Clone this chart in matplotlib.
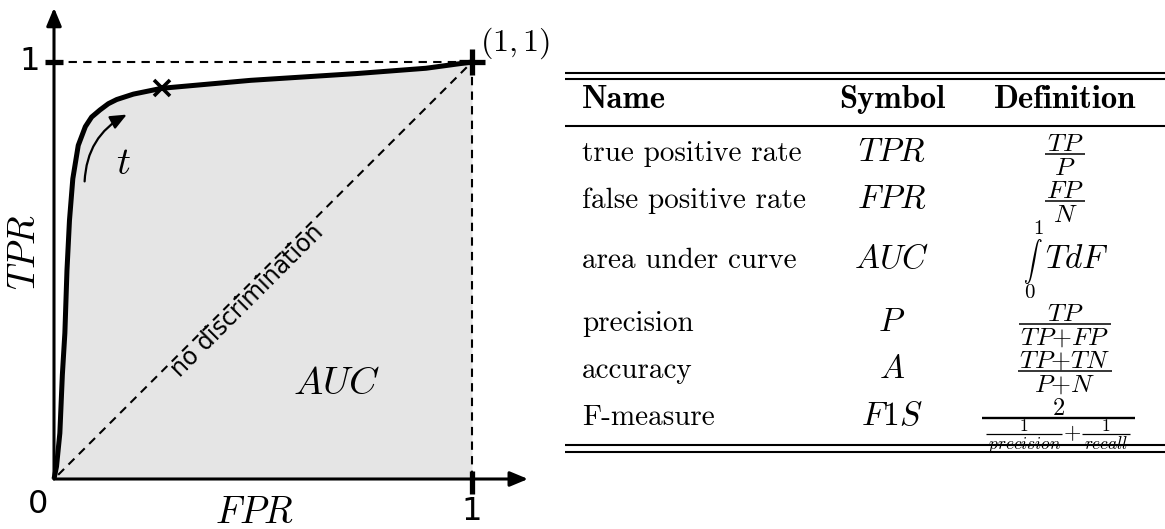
import matplotlib
matplotlib.use("Agg")
import matplotlib.pyplot as plt
from matplotlib.patches import FancyArrowPatch

plt.rcParams["mathtext.fontset"] = "cm"
plt.rcParams["font.family"] = "DejaVu Sans"

# ROC curve (false positive rate vs true positive rate)
fpr = [0.0, 0.006, 0.014, 0.020, 0.026, 0.031, 0.037, 0.045, 0.058, 0.075,
       0.090, 0.110, 0.130, 0.150, 0.190, 0.258, 0.470, 0.720, 0.890, 1.0]
tpr = [0.0, 0.030, 0.110, 0.250, 0.350, 0.500, 0.620, 0.720, 0.800, 0.845,
       0.868, 0.885, 0.900, 0.910, 0.923, 0.937, 0.956, 0.972, 0.985, 1.0]
threshold_point = (0.258, 0.937)

# metric table
headers = ["Name", "Symbol", "Definition"]
names = ["true positive rate", "false positive rate", "area under curve",
         "precision", "accuracy", "F-measure"]
symbols = [r"$TPR$", r"$FPR$", r"$AUC$", r"$P$", r"$A$", r"$F1S$"]
# definitions as (numerator, denominator); None marks the integral row
definitions = [
    (r"$TP$", r"$P$"),
    (r"$FP$", r"$N$"),
    None,
    (r"$TP$", r"$TP{+}FP$"),
    (r"$TP{+}TN$", r"$P{+}N$"),
    (r"$2$", [(r"$1$", r"$precision$"), (r"$1$", r"$recall$")]),
]
auc_integrand = r"$TdF$"
auc_limits = ["0", "1"]

W, H = 1165, 529
fig = plt.figure(figsize=(W / 100, H / 100), dpi=100)

# --- ROC sketch: unit square maps to x 54..472 px, y 479..62 px
ax = fig.add_axes([0, 0, 1, 1])
x0, y0, ux, uy = 54, 479, 418, 417
ax.set_xlim(-x0 / ux, (W - x0) / ux)
ax.set_ylim((y0 - H) / uy, y0 / uy)
ax.axis("off")

ax.fill_between(fpr, 0, tpr, color="#e5e5e5", lw=0, zorder=0)
dash = (0, (4, 3))
ax.plot([0, 1], [1, 1], color="k", lw=1.5, ls=dash, zorder=1)
ax.plot([1, 1], [0, 1], color="k", lw=1.5, ls=dash, zorder=1)
ax.plot([0.01, 1], [0.01, 1], color="k", lw=1.5, ls=dash, zorder=1)

head = "-|>,head_length=0.6,head_width=0.25"
ax.annotate("", xy=(1.134, 0), xytext=(0, 0),
            arrowprops=dict(arrowstyle=head, lw=2.2, color="k",
                            mutation_scale=18, shrinkA=0, shrinkB=0))
ax.annotate("", xy=(0, 1.13), xytext=(0, 0),
            arrowprops=dict(arrowstyle=head, lw=2.2, color="k",
                            mutation_scale=18, shrinkA=0, shrinkB=0))

# tick bars and the (1,1) cross
ax.plot([-0.022, 0.022], [1, 1], color="k", lw=3.8, solid_capstyle="butt", zorder=3)
ax.plot([1, 1], [-0.036, 0.02], color="k", lw=3.8, solid_capstyle="butt", zorder=3)
ax.plot([0.968, 1.03], [1, 1], color="k", lw=3.8, solid_capstyle="butt", zorder=3)
ax.plot([1, 1], [0.97, 1.03], color="k", lw=3.8, solid_capstyle="butt", zorder=3)

ax.plot(fpr, tpr, color="k", lw=3.6, solid_joinstyle="round",
        solid_capstyle="butt", zorder=4)
ax.plot(*threshold_point, marker="x", color="k", ms=11, mew=2.6, zorder=5)

arc = FancyArrowPatch((0.073, 0.707), (0.18, 0.877),
                      connectionstyle="arc3,rad=-0.3",
                      arrowstyle="-|>,head_length=0.7,head_width=0.3",
                      mutation_scale=14, lw=1.6, color="k", zorder=5)
ax.add_patch(arc)

ax.text(0.165, 0.758, r"$t$", fontsize=28, ha="center", va="center")
ax.text(0.675, 0.23, r"$AUC$", fontsize=28, ha="center", va="center")
ax.text(1.02, 1.045, r"$(1,1)$", fontsize=23, ha="left", va="center")
ax.text(0.48, -0.082, r"$FPR$", fontsize=27, ha="center", va="center")
ax.text(-0.069, 0.544, r"$TPR$", fontsize=27, ha="center", va="center",
        rotation=90)
ax.text(-0.037, -0.062, "0", fontsize=23, ha="center", va="center")
ax.text(-0.057, 1.0, "1", fontsize=23, ha="center", va="center")
ax.text(1.0, -0.079, "1", fontsize=23, ha="center", va="center")
ax.text(0.462, 0.427, "no discrimination", fontsize=17, ha="center",
        va="center", rotation=45, rotation_mode="anchor")

# --- table drawn in pixel coordinates (y grows downwards)
tab = fig.add_axes([0, 0, 1, 1], facecolor="none")
tab.set_xlim(0, W)
tab.set_ylim(H, 0)
tab.axis("off")
renderer = fig.canvas.get_renderer()


def text_width(t):
    return t.get_window_extent(renderer).width


def stacked(x, y, num, den, fs, lw=1.1, pad=1.5, ha="center"):
    """Numerator over denominator with a rule at height y; returns width."""
    cap = 0.683 * fs * 100 / 72
    tn = tab.text(x, y - 3, num, fontsize=fs, ha="center", va="baseline")
    td = tab.text(x, y + cap + 3, den, fontsize=fs, ha="center", va="baseline")
    w = max(text_width(tn), text_width(td)) + 2 * pad
    if ha == "left":
        for t in (tn, td):
            t.set_x(x + w / 2)
        x = x + w / 2
    tab.plot([x - w / 2, x + w / 2], [y, y], color="k", lw=lw,
             solid_capstyle="butt")
    return w


left, right = 565, 1165
for y in [73, 79, 126, 445, 452]:
    tab.plot([left, right], [y, y], color="k", lw=1.5, solid_capstyle="butt")

col_x = [582, 892, 1065]
col_ha = ["left", "center", "center"]
for cx, ha, label in zip(col_x, col_ha, headers):
    tab.text(cx, 108, label, family="cmb10", fontsize=23.5, ha=ha,
             va="baseline")

rule_y = [154, 201, 261, 324, 371, 418]
for yr, name, sym, dfn in zip(rule_y, names, symbols, definitions):
    tab.text(col_x[0], yr + 7, name, family="cmr10", fontsize=21,
             ha="left", va="baseline")
    tab.text(col_x[1], yr + 7, sym, fontsize=24, ha="center", va="baseline")
    if dfn is None:
        tab.text(1033, yr, r"$\int$", fontsize=13.5, ha="center", va="center")
        tab.text(1045, yr + 7, auc_integrand, fontsize=24, ha="left",
                 va="baseline")
        tab.text(1029, yr + 32, auc_limits[0], family="cmr10", fontsize=15,
                 ha="center", va="center")
        tab.text(1038, yr - 32, auc_limits[1], family="cmr10", fontsize=15,
                 ha="center", va="center")
    elif isinstance(dfn[1], list):
        # nested fraction: 2 over (1/precision + 1/recall)
        num, parts = dfn
        (n1, d1), (n2, d2) = parts
        sub_y = yr + 16
        xs = 986
        w1 = stacked(xs, sub_y, n1, d1, 12.5, lw=0.9, ha="left")
        plus = tab.text(xs + w1 + 1, sub_y + 5, r"$+$", fontsize=16,
                        ha="left", va="baseline")
        wp = text_width(plus)
        w2 = stacked(xs + w1 + wp + 2, sub_y, n2, d2, 12.5, lw=0.9, ha="left")
        total = w1 + wp + w2 + 3
        tab.plot([xs - 4, xs + total + 4], [yr, yr], color="k", lw=1.7,
                 solid_capstyle="butt")
        tab.text(xs + total / 2, yr - 3, num, fontsize=17.5, ha="center",
                 va="baseline")
    else:
        stacked(col_x[2], yr, dfn[0], dfn[1], 18.5)

fig.savefig("out.png", dpi=100, facecolor="white")
